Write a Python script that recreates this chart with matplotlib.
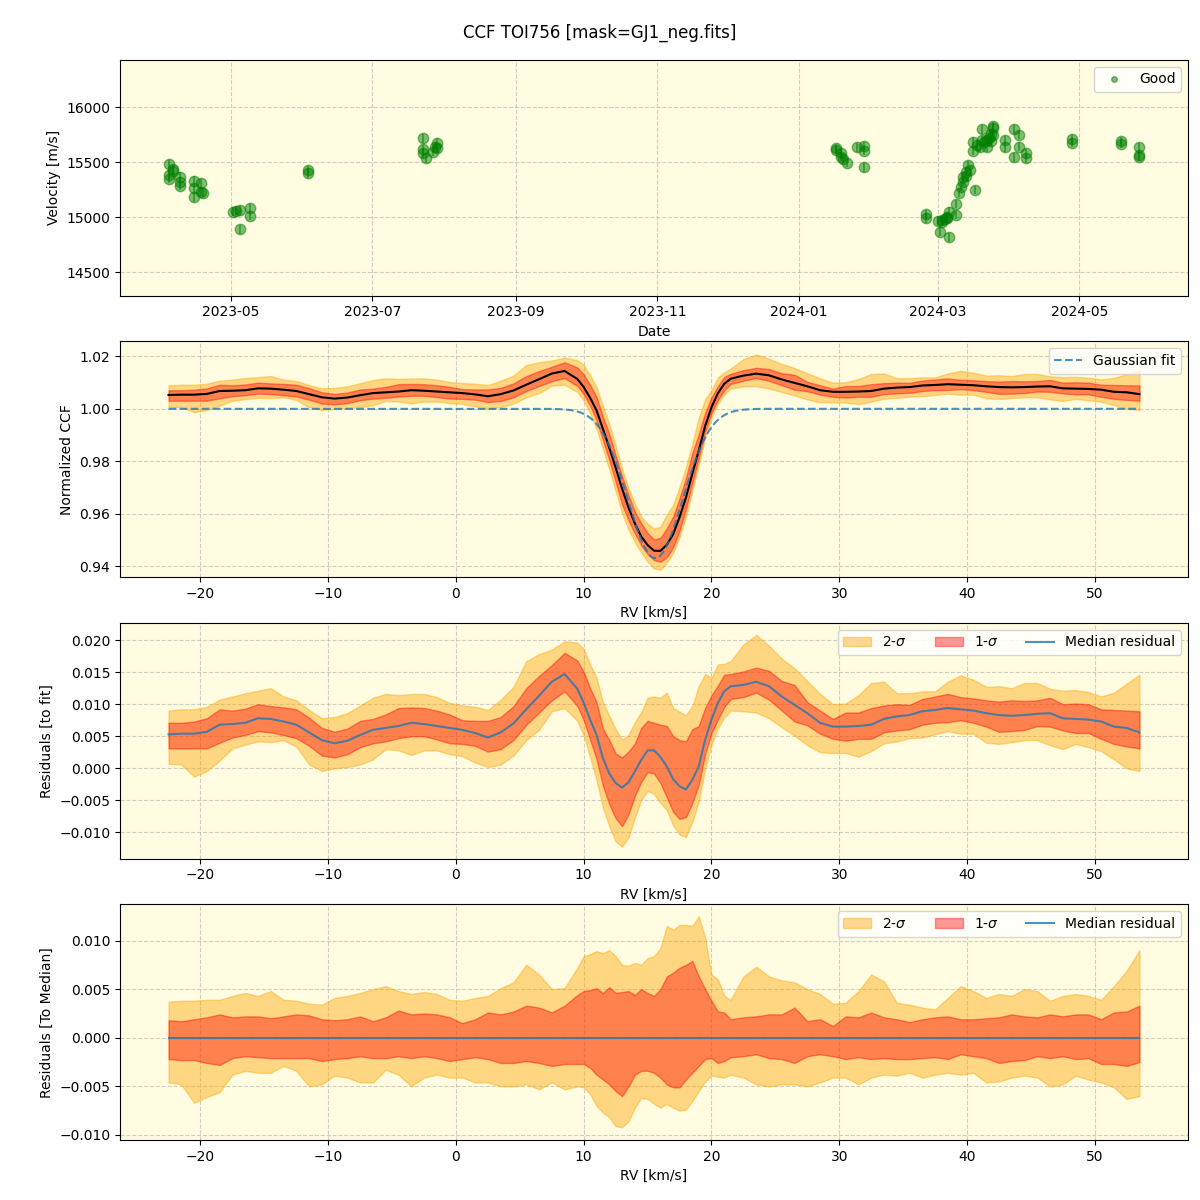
import numpy as np
import pandas as pd
import matplotlib
matplotlib.use("Agg")
import matplotlib.pyplot as plt
import matplotlib.dates as mdates
from matplotlib.lines import Line2D

# ---------------- Panel 1: RV time series ----------------
obs_dates = [
    "2023-04-04", "2023-04-04", "2023-04-04", "2023-04-06", "2023-04-06",
    "2023-04-09", "2023-04-09", "2023-04-09", "2023-04-15", "2023-04-15",
    "2023-04-15", "2023-04-18", "2023-04-18", "2023-04-19",
    "2023-05-02", "2023-05-03", "2023-05-05", "2023-05-05", "2023-05-09", "2023-05-09",
    "2023-06-03", "2023-06-03",
    "2023-07-23", "2023-07-23", "2023-07-23", "2023-07-24", "2023-07-27",
    "2023-07-28", "2023-07-29", "2023-07-29",
    "2024-01-17", "2024-01-17", "2024-01-19", "2024-01-19", "2024-01-20",
    "2024-01-22", "2024-01-26", "2024-01-29", "2024-01-29", "2024-01-29",
    "2024-02-25", "2024-02-25",
    "2024-03-01", "2024-03-02", "2024-03-03", "2024-03-03", "2024-03-04",
    "2024-03-05", "2024-03-05", "2024-03-06", "2024-03-06", "2024-03-09",
    "2024-03-09", "2024-03-10", "2024-03-11", "2024-03-12", "2024-03-12",
    "2024-03-13", "2024-03-13", "2024-03-14", "2024-03-15", "2024-03-16",
    "2024-03-16", "2024-03-17", "2024-03-18", "2024-03-19", "2024-03-20",
    "2024-03-20", "2024-03-21", "2024-03-22", "2024-03-22", "2024-03-23",
    "2024-03-24", "2024-03-24", "2024-03-25", "2024-03-25", "2024-03-25",
    "2024-03-30", "2024-03-30", "2024-04-03", "2024-04-03", "2024-04-05",
    "2024-04-05", "2024-04-08", "2024-04-08",
    "2024-04-28", "2024-04-28",
    "2024-05-19", "2024-05-19",
    "2024-05-27", "2024-05-27", "2024-05-27",
]
obs_vel = [
    15485, 15385, 15349, 15436, 15424,
    15370, 15285, 15324, 15333, 15182,
    15264, 15233, 15309, 15224,
    15052, 15061, 15067, 14891, 15082, 15012,
    15430, 15400,
    15718, 15618, 15582, 15536, 15597,
    15642, 15679, 15627,
    15627, 15612, 15582, 15552, 15527,
    15497, 15636, 15648, 15606, 15455,
    15030, 14991,
    14970, 14870, 14976, 14960, 14985,
    14991, 15006, 15052, 14818, 15121,
    15021, 15224, 15280, 15324, 15370,
    15415, 15380, 15476, 15430, 15688,
    15606, 15249, 15660, 15636, 15800,
    15700, 15688, 15636, 15700, 15718,
    15760, 15690, 15809, 15748, 15830,
    15703, 15636, 15800, 15545, 15748,
    15642, 15582, 15536,
    15709, 15679,
    15694, 15667,
    15636, 15567, 15552,
]
vel_err = 40.0

# ---------------- CCF data (RV grid, km/s) ----------------
rv = [-22.5, -21.5, -20.5, -19.5, -18.5, -17.5, -16.5, -15.5, -14.5, -13.5,
      -12.5, -11.5, -10.5, -9.5, -8.5, -7.5, -6.5, -5.5, -4.5, -3.5,
      -2.5, -1.5, -0.5, 0.5, 1.5, 2.5, 3.5, 4.5, 5.5, 6.5, 7.5, 8.5,
      9.5, 10.0, 10.5, 11.0, 11.5, 12.0, 12.5, 13.0, 13.5, 14.0, 14.5,
      15.0, 15.5, 16.0, 16.5, 17.0, 17.5, 18.0, 18.5, 19.0, 19.5, 20.0,
      20.5, 21.0, 21.5,
      22.5, 23.5, 24.5, 25.5, 26.5, 27.5, 28.5, 29.5, 30.5, 31.5, 32.5,
      33.5, 34.5, 35.5, 36.5, 37.5, 38.5, 39.5, 40.5, 41.5, 42.5, 43.5,
      44.5, 45.5, 46.5, 47.5, 48.5, 49.5, 50.5, 51.5, 52.5, 53.5]

resid_median = [
    0.0053, 0.0054, 0.0054, 0.0057, 0.0068, 0.0069, 0.0071, 0.0078, 0.0077, 0.0073,
    0.0068, 0.0056, 0.0044, 0.0039, 0.0043, 0.0052, 0.0060, 0.0063, 0.0066, 0.0071,
    0.0069, 0.0066, 0.0063, 0.0060, 0.0055, 0.0048, 0.0056, 0.0070, 0.0092, 0.0113,
    0.0135, 0.0147,
    0.0124, 0.0102, 0.0076, 0.0052, 0.0016, -0.0008, -0.0023, -0.0030, -0.0022,
    -0.0005, 0.0013, 0.0028, 0.0028, 0.0018, 0.0003, -0.0017, -0.0028, -0.0033,
    -0.0018, 0.0003, 0.0044, 0.0076, 0.0102, 0.0120, 0.0128,
    0.0130, 0.0135, 0.0128, 0.0112, 0.0099, 0.0086, 0.0071, 0.0065, 0.0065, 0.0066,
    0.0068, 0.0077, 0.0081, 0.0083, 0.0089, 0.0091, 0.0094, 0.0092, 0.0090, 0.0086,
    0.0083, 0.0082, 0.0083, 0.0085, 0.0086, 0.0078, 0.0077, 0.0076, 0.0073, 0.0065,
    0.0063, 0.0056]

# band offsets relative to the median residual
sig2_hi = [
    0.0037, 0.0038, 0.0038, 0.0039, 0.0039, 0.0043, 0.0046, 0.0043, 0.0048, 0.0039,
    0.0038, 0.0035, 0.0034, 0.0041, 0.0043, 0.0046, 0.0050, 0.0053, 0.0048, 0.0045,
    0.0047, 0.0045, 0.0039, 0.0038, 0.0041, 0.0043, 0.0051, 0.0057, 0.0075, 0.0065,
    0.0050, 0.0051,
    0.0072, 0.0084, 0.0086, 0.0089, 0.0087, 0.0090, 0.0084, 0.0075, 0.0074, 0.0077,
    0.0075, 0.0082, 0.0084, 0.0092, 0.0115, 0.0111, 0.0116, 0.0116, 0.0115, 0.0125,
    0.0103, 0.0065, 0.0060, 0.0043, 0.0039,
    0.0063, 0.0073, 0.0063, 0.0059, 0.0057, 0.0050, 0.0045, 0.0035, 0.0036, 0.0048,
    0.0065, 0.0058, 0.0036, 0.0034, 0.0031, 0.0029, 0.0041, 0.0053, 0.0048, 0.0041,
    0.0045, 0.0043, 0.0050, 0.0048, 0.0038, 0.0043, 0.0045, 0.0043, 0.0039, 0.0053,
    0.0069, 0.0090]
sig1_hi = [
    0.0018, 0.0017, 0.0019, 0.0021, 0.0024, 0.0021, 0.0022, 0.0022, 0.0020, 0.0022,
    0.0024, 0.0023, 0.0019, 0.0018, 0.0019, 0.0022, 0.0017, 0.0021, 0.0028, 0.0024,
    0.0025, 0.0024, 0.0021, 0.0015, 0.0019, 0.0026, 0.0024, 0.0027, 0.0033, 0.0031,
    0.0026, 0.0033,
    0.0044, 0.0048, 0.0049, 0.0051, 0.0046, 0.0052, 0.0046, 0.0047, 0.0048, 0.0044,
    0.0050, 0.0046, 0.0043, 0.0050, 0.0063, 0.0067, 0.0072, 0.0075, 0.0079, 0.0063,
    0.0050, 0.0038, 0.0027, 0.0026, 0.0019,
    0.0021, 0.0022, 0.0024, 0.0024, 0.0031, 0.0017, 0.0019, 0.0012, 0.0022, 0.0021,
    0.0026, 0.0021, 0.0019, 0.0016, 0.0019, 0.0021, 0.0022, 0.0019, 0.0019, 0.0020,
    0.0021, 0.0024, 0.0022, 0.0021, 0.0024, 0.0022, 0.0024, 0.0024, 0.0019, 0.0026,
    0.0027, 0.0033]
sig1_lo = [
    -0.0022, -0.0023, -0.0023, -0.0026, -0.0028, -0.0021, -0.0019, -0.0020, -0.0021, -0.0021,
    -0.0021, -0.0021, -0.0024, -0.0022, -0.0021, -0.0019, -0.0021, -0.0021, -0.0019, -0.0021,
    -0.0019, -0.0021, -0.0024, -0.0022, -0.0020, -0.0022, -0.0026, -0.0026, -0.0024, -0.0026,
    -0.0029, -0.0027,
    -0.0027, -0.0027, -0.0031, -0.0038, -0.0043, -0.0048, -0.0055, -0.0060, -0.0050, -0.0038,
    -0.0034, -0.0034, -0.0036, -0.0041, -0.0048, -0.0051, -0.0051, -0.0043, -0.0036, -0.0029,
    -0.0022, -0.0021, -0.0026, -0.0024, -0.0020,
    -0.0019, -0.0017, -0.0021, -0.0022, -0.0026, -0.0019, -0.0017, -0.0019, -0.0022, -0.0020,
    -0.0022, -0.0021, -0.0022, -0.0022, -0.0021, -0.0020, -0.0022, -0.0017, -0.0019, -0.0021,
    -0.0026, -0.0024, -0.0023, -0.0019, -0.0021, -0.0019, -0.0022, -0.0021, -0.0027, -0.0027,
    -0.0029, -0.0025]
sig2_lo = [
    -0.0046, -0.0048, -0.0067, -0.0061, -0.0056, -0.0038, -0.0034, -0.0036, -0.0036, -0.0029,
    -0.0034, -0.0050, -0.0048, -0.0039, -0.0041, -0.0046, -0.0046, -0.0033, -0.0038, -0.0050,
    -0.0041, -0.0038, -0.0041, -0.0041, -0.0046, -0.0046, -0.0050, -0.0050, -0.0048, -0.0053,
    -0.0046, -0.0053,
    -0.0050, -0.0051, -0.0058, -0.0070, -0.0077, -0.0082, -0.0091, -0.0092, -0.0086, -0.0072,
    -0.0062, -0.0063, -0.0068, -0.0072, -0.0068, -0.0072, -0.0075, -0.0074, -0.0065, -0.0055,
    -0.0045, -0.0039, -0.0040, -0.0041, -0.0038,
    -0.0041, -0.0048, -0.0050, -0.0048, -0.0048, -0.0050, -0.0046, -0.0041, -0.0041, -0.0048,
    -0.0041, -0.0038, -0.0039, -0.0036, -0.0041, -0.0038, -0.0036, -0.0038, -0.0036, -0.0046,
    -0.0045, -0.0041, -0.0039, -0.0041, -0.0050, -0.0048, -0.0039, -0.0043, -0.0046, -0.0051,
    -0.0063, -0.0060]

# Gaussian fit parameters
fit_depth = 0.057
fit_center = 15.6
fit_sigma = 2.15

# ---------------- derived arrays ----------------
rv_a = np.array(rv)
med = np.array(resid_median)
s2h, s1h = np.array(sig2_hi), np.array(sig1_hi)
s1l, s2l = np.array(sig1_lo), np.array(sig2_lo)


def gauss_fit(x):
    return 1.0 - fit_depth * np.exp(-0.5 * ((x - fit_center) / fit_sigma) ** 2)


fit_on_grid = gauss_fit(rv_a)
ccf = fit_on_grid + med
rv_dense = np.linspace(rv_a[0], rv_a[-1], 600)

BG = "#FFFCE1"
C2 = "orange"
C1 = "red"
A2 = 0.42
A1 = 0.4

fig = plt.figure(figsize=(12, 12), dpi=100)
gs = fig.add_gridspec(4, 1, left=0.1, right=0.99, top=0.95, bottom=0.05, hspace=0.195)
axes = [fig.add_subplot(gs[i]) for i in range(4)]
for ax in axes:
    ax.set_facecolor(BG)
    ax.grid(True, linestyle="--", color="#b0b0b0", alpha=0.6)
    ax.set_axisbelow(True)

# Panel 1
ax1 = axes[0]
dts = pd.to_datetime(obs_dates)
ax1.errorbar(dts, obs_vel, yerr=vel_err, fmt="o", color="green", ms=7.5,
             alpha=0.5, elinewidth=1.5, capsize=0)
ax1.set_ylim(14290, 16430)
ax1.xaxis.set_major_locator(mdates.MonthLocator(bymonth=[1, 3, 5, 7, 9, 11]))
ax1.xaxis.set_major_formatter(mdates.DateFormatter("%Y-%m"))
ax1.set_xlabel("Date")
ax1.set_ylabel("Velocity [m/s]")
good_handle = Line2D([], [], marker="o", ls="", color="green", alpha=0.5, ms=4)
ax1.legend([good_handle], ["Good"], loc="upper right")

# Panel 2
ax2 = axes[1]
ax2.fill_between(rv_a, ccf + s2l, ccf + s2h, color=C2, alpha=A2)
ax2.fill_between(rv_a, ccf + s1l, ccf + s1h, color=C1, alpha=A1)
ax2.plot(rv_a, ccf, color="black", lw=1.5)
ax2.plot(rv_dense, gauss_fit(rv_dense), "--", color="C0", alpha=0.8, lw=1.5,
         label="Gaussian fit")
ax2.set_ylim(0.9358, 1.0257)
ax2.set_xlabel("RV [km/s]")
ax2.set_ylabel("Normalized CCF")
ax2.legend(loc="upper right")

# Panel 3
ax3 = axes[2]
ax3.fill_between(rv_a, med + s2l, med + s2h, color=C2, alpha=A2, label="2-$\\sigma$")
ax3.fill_between(rv_a, med + s1l, med + s1h, color=C1, alpha=A1, label="1-$\\sigma$")
ax3.plot(rv_a, med, color="C0", alpha=0.8, lw=1.5, label="Median residual")
ax3.set_ylim(-0.01406, 0.02266)
ax3.set_xlabel("RV [km/s]")
ax3.set_ylabel("Residuals [to fit]")
ax3.legend(loc="upper right", ncol=3)

# Panel 4
ax4 = axes[3]
zero = np.zeros_like(rv_a)
ax4.fill_between(rv_a, s2l, s2h, color=C2, alpha=A2, label="2-$\\sigma$")
ax4.fill_between(rv_a, s1l, s1h, color=C1, alpha=A1, label="1-$\\sigma$")
ax4.plot(rv_a, zero, color="C0", alpha=0.8, lw=1.5, label="Median residual")
ax4.set_ylim(-0.01052, 0.01371)
ax4.set_xlabel("RV [km/s]")
ax4.set_ylabel("Residuals [To Median]")
ax4.legend(loc="upper right", ncol=3)

for ax in axes[1:]:
    ax.set_xlim(-26.3, 57.3)

fig.suptitle("CCF TOI756 [mask=GJ1_neg.fits]", y=0.9805, fontsize=12)
fig.savefig("out.png", dpi=100)
